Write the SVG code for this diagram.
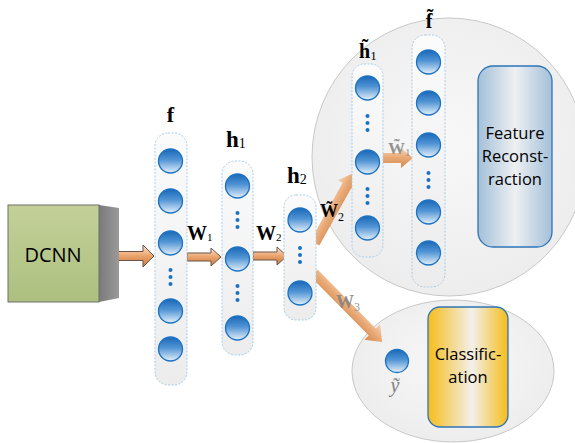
<svg xmlns="http://www.w3.org/2000/svg" width="575" height="443" viewBox="0 0 575 443">
<defs>
<linearGradient id="gNeuron" x1="0" y1="0" x2="0" y2="1">
<stop offset="0" stop-color="#1a68b8"/>
<stop offset="0.45" stop-color="#5094d4"/>
<stop offset="1" stop-color="#e6f0fa"/>
</linearGradient>
<linearGradient id="gCol" x1="0" y1="0" x2="0" y2="1">
<stop offset="0" stop-color="#fbfbfb"/>
<stop offset="1" stop-color="#ececec"/>
</linearGradient>
<radialGradient id="gRegion" cx="0.5" cy="0.45" r="0.6">
<stop offset="0" stop-color="#f8f8f8"/>
<stop offset="1" stop-color="#ececec"/>
</radialGradient>
<linearGradient id="gArrow" x1="0" y1="0" x2="0" y2="1">
<stop offset="0" stop-color="#fce4d0"/>
<stop offset="0.5" stop-color="#eaa36c"/>
<stop offset="1" stop-color="#c9773e"/>
</linearGradient>
<linearGradient id="gArrowSoft" x1="0" y1="0" x2="0" y2="1">
<stop offset="0" stop-color="#f6d2b4"/>
<stop offset="0.5" stop-color="#e8a772"/>
<stop offset="1" stop-color="#d48a52"/>
</linearGradient>
<linearGradient id="gRecon" x1="0" y1="0" x2="1" y2="0">
<stop offset="0" stop-color="#a3c0d9"/>
<stop offset="0.5" stop-color="#eef0f2"/>
<stop offset="1" stop-color="#a3c0d9"/>
</linearGradient>
<linearGradient id="gClass" x1="0" y1="0" x2="1" y2="0">
<stop offset="0" stop-color="#f6bd1a"/>
<stop offset="0.55" stop-color="#f2f0ea"/>
<stop offset="1" stop-color="#f6bd1a"/>
</linearGradient>
<linearGradient id="gDcnn" x1="0" y1="0" x2="0" y2="1">
<stop offset="0" stop-color="#c3d199"/>
<stop offset="1" stop-color="#adc07f"/>
</linearGradient>
<linearGradient id="gSide" x1="0" y1="0" x2="1" y2="0">
<stop offset="0" stop-color="#7a7a7a"/>
<stop offset="1" stop-color="#9a9a9a"/>
</linearGradient>
</defs>
<style>
.neuron{fill:url(#gNeuron);stroke:#1b72c4;stroke-width:1.3}
.dot{fill:#1b72c4}
.col{fill:url(#gCol);stroke:#a8cde8;stroke-width:1;stroke-dasharray:2 1.5}
.region{fill:url(#gRegion);stroke:#c8c8c8;stroke-width:1}
.arrow{fill:url(#gArrow);stroke:#6b5446;stroke-width:1}
.arrowSoft{fill:url(#gArrowSoft);stroke:none}
.lbl{font-family:"Liberation Serif","Times New Roman",serif;font-weight:bold;fill:#000}
.sub{font-weight:normal}
.gray{fill:#808080}
.box{font-family:"Open Sans","Liberation Sans",Arial,sans-serif;fill:#000;text-anchor:middle}
</style>

<g id="regions">
<ellipse id="region-reconstruction" class="region" cx="449" cy="157" rx="137" ry="139"/>
<ellipse id="region-classification" class="region" cx="453" cy="371" rx="101" ry="71"/>
</g>

<g id="connectors">
<path class="arrowSoft" transform="translate(315,243) rotate(-61)" d="M0,-5 L66,-5 L66,-10.5 L80,0 L66,10.5 L66,5 L0,5 Z"/>
<path class="arrowSoft" transform="translate(314,273) rotate(45.4)" d="M0,-5 L83,-5 L83,-11 L97,0 L83,11 L83,5 L0,5 Z"/>
<path class="arrowSoft" d="M383,153 L401,153 L401,148 L413,158 L401,168 L401,163 L383,163 Z"/>
<path class="arrow" d="M108,251.5 L143,251.5 L143,245 L154,256 L143,267 L143,260.5 L108,260.5 Z"/>
<path class="arrow" d="M187,253 L211,253 L211,248 L221,257 L211,266 L211,261 L187,261 Z"/>
<path class="arrow" d="M253,252 L277,252 L277,247 L287,256 L277,265 L277,260 L253,260 Z"/>
</g>

<g id="dcnn">
<polygon points="99,205 119,208 119,298 99,302" fill="url(#gSide)"/>
<rect x="8" y="205" width="91" height="97" fill="url(#gDcnn)" stroke="#6e6e6e" stroke-width="1"/>
<text x="53" y="262" font-family="'Open Sans','Liberation Sans',Arial,sans-serif" font-size="20" text-anchor="middle" fill="#000">DCNN</text>
</g>

<g id="layer-f">
<rect class="col" x="155" y="133" width="32" height="252" rx="13"/>
<circle class="neuron" cx="170.5" cy="161" r="12"/>
<circle class="neuron" cx="170.5" cy="201" r="12"/>
<circle class="neuron" cx="170.5" cy="243" r="12"/>
<circle class="dot" cx="170.5" cy="270" r="2"/>
<circle class="dot" cx="170.5" cy="277" r="2"/>
<circle class="dot" cx="170.5" cy="284" r="2"/>
<circle class="neuron" cx="170.5" cy="311" r="12"/>
<circle class="neuron" cx="170.5" cy="349" r="12"/>
<text class="lbl" x="170.5" y="122" font-size="22" text-anchor="middle">f</text>
</g>

<g id="layer-h1">
<rect class="col" x="222" y="161" width="31" height="194" rx="13"/>
<circle class="neuron" cx="237.5" cy="186" r="12"/>
<circle class="dot" cx="237.5" cy="213" r="2"/>
<circle class="dot" cx="237.5" cy="220" r="2"/>
<circle class="dot" cx="237.5" cy="227" r="2"/>
<circle class="neuron" cx="237.5" cy="259" r="12"/>
<circle class="dot" cx="237.5" cy="286" r="2"/>
<circle class="dot" cx="237.5" cy="293" r="2"/>
<circle class="dot" cx="237.5" cy="300" r="2"/>
<circle class="neuron" cx="237.5" cy="328" r="12"/>
<text class="lbl" x="226" y="147" font-size="23">h<tspan class="sub" font-size="14" dy="1">1</tspan></text>
</g>

<g id="layer-h2">
<rect class="col" x="284" y="195" width="32" height="125" rx="12"/>
<circle class="neuron" cx="300" cy="220" r="12"/>
<circle class="dot" cx="300" cy="248" r="2"/>
<circle class="dot" cx="300" cy="255" r="2"/>
<circle class="dot" cx="300" cy="262" r="2"/>
<circle class="neuron" cx="300" cy="293" r="12"/>
<text class="lbl" x="287" y="183" font-size="23">h<tspan class="sub" font-size="14" dy="1">2</tspan></text>
</g>

<g id="layer-h1-tilde">
<rect class="col" x="352" y="64" width="31" height="193" rx="12"/>
<circle class="neuron" cx="367.5" cy="88" r="12"/>
<circle class="dot" cx="367.5" cy="116" r="2"/>
<circle class="dot" cx="367.5" cy="123" r="2"/>
<circle class="dot" cx="367.5" cy="130" r="2"/>
<circle class="neuron" cx="367.5" cy="162" r="12"/>
<circle class="dot" cx="367.5" cy="189" r="2"/>
<circle class="dot" cx="367.5" cy="196" r="2"/>
<circle class="dot" cx="367.5" cy="203" r="2"/>
<circle class="neuron" cx="367.5" cy="228" r="12"/>
<text class="lbl" x="359" y="58" font-size="20">h&#x303;<tspan class="sub" font-size="13" dy="2">1</tspan></text>
</g>

<g id="layer-f-tilde">
<rect class="col" x="412" y="35" width="33" height="252" rx="13"/>
<circle class="neuron" cx="428.5" cy="62" r="12"/>
<circle class="neuron" cx="428.5" cy="103" r="12"/>
<circle class="neuron" cx="428.5" cy="145" r="12"/>
<circle class="dot" cx="428.5" cy="173" r="2"/>
<circle class="dot" cx="428.5" cy="180" r="2"/>
<circle class="dot" cx="428.5" cy="187" r="2"/>
<circle class="neuron" cx="428.5" cy="212" r="12"/>
<circle class="neuron" cx="428.5" cy="253" r="12"/>
<text class="lbl" x="429" y="28" font-size="20" text-anchor="middle">f&#x303;</text>
</g>

<g id="feature-reconstruction">
<rect x="478" y="66" width="74" height="181" rx="15" fill="url(#gRecon)" stroke="#2e75b6" stroke-width="1.3"/>
<text class="box" x="515" y="139" font-size="16.5">Feature</text>
<text class="box" x="515" y="162" font-size="16.5">Reconst-</text>
<text class="box" x="515" y="185" font-size="16.5">raction</text>
</g>

<g id="classification">
<rect x="428" y="307" width="80" height="120" rx="12" fill="url(#gClass)" stroke="#2e75b6" stroke-width="1.3"/>
<text class="box" x="468" y="360" font-size="16.5">Classific-</text>
<text class="box" x="468" y="383" font-size="16.5">ation</text>
</g>

<g id="output-y">
<circle class="neuron" cx="397" cy="361" r="11.5"/>
<text x="395" y="392" font-family="'Liberation Serif','Times New Roman',serif" font-style="italic" font-size="20" fill="#808080" text-anchor="middle">y&#x303;</text>
</g>

<g id="connector-labels">
<text class="lbl" x="187" y="240" font-size="20">W<tspan class="sub" font-size="11" dy="1">1</tspan></text>
<text class="lbl" x="256" y="240" font-size="20">W<tspan class="sub" font-size="11" dy="1">2</tspan></text>
<text class="lbl" x="320" y="217" font-size="18">W&#x303;<tspan class="sub" font-size="12" dy="4">2</tspan></text>
<text class="lbl gray" x="336" y="308" font-size="18" fill-opacity="0.85">W<tspan class="sub" font-size="12" dy="3">3</tspan></text>
<text class="lbl gray" x="388" y="154" font-size="17" fill-opacity="0.85">W&#x303;<tspan class="sub" font-size="11" dy="2">1</tspan></text>
</g>
</svg>
